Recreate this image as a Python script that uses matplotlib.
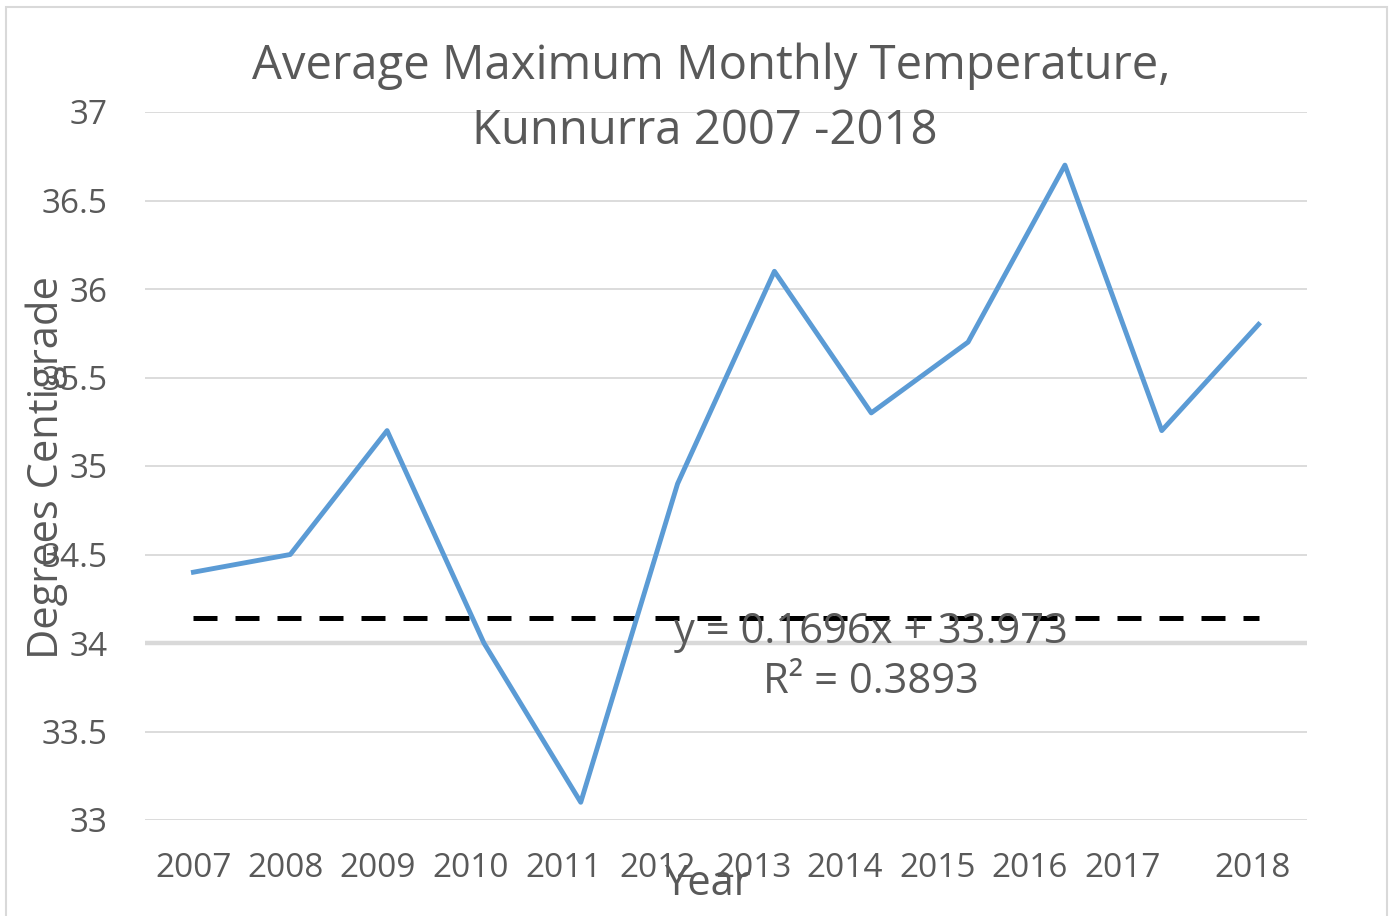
import matplotlib.pyplot as plt
from matplotlib.patches import Rectangle

plt.rcParams['font.family'] = ['Open Sans', 'DejaVu Sans']

years = ['2007', '2008', '2009', '2010', '2011', '2012',
         '2013', '2014', '2015', '2016', '2017', '2018']
temps = [34.4, 34.5, 35.2, 34.0, 33.1, 34.9, 36.1, 35.3, 35.7, 36.7, 35.2, 35.8]
trend_level = 34.14
# label slots in the original are not evenly spread
label_pos = [0, 0.95, 1.9, 2.86, 3.82, 4.79, 5.78, 6.73, 7.69, 8.64, 9.6, 10.94]

grey = '#595959'
fig = plt.figure(figsize=(13.94, 9.16), dpi=100)
ax = fig.add_axes([145/1394, 96/916, 1162/1394, 708/916])

xs = list(range(len(temps)))
for y in [33, 33.5, 34.5, 35, 35.5, 36, 36.5, 37]:
    ax.axhline(y, color='#d9d9d9', lw=1.3, zorder=0)
ax.axhline(34, color='#d9d9d9', lw=3.2, zorder=0)

ax.plot(xs, temps, color='#5b9bd5', lw=3.5, solid_joinstyle='round', zorder=3)
ax.plot([xs[0], xs[-1]], [trend_level, trend_level], color='black', lw=3.6,
        dashes=(4.8, 3.6), zorder=2)

ax.text(7.0, 34.06, 'y = 0.1696x + 33.973', ha='center', va='center',
        fontsize=30, color=grey, zorder=4)
ax.text(7.0, 33.78, 'R² = 0.3893', ha='center', va='center',
        fontsize=30, color=grey, zorder=4)

ax.set_xlim(-0.5, 11.5)
ax.set_ylim(33, 37)
ax.set_yticks([33, 33.5, 34, 34.5, 35, 35.5, 36, 36.5, 37])
ax.set_yticklabels(['33', '33.5', '34', '34.5', '35', '35.5', '36', '36.5', '37'])
ax.set_xticks(label_pos)
ax.set_xticklabels(years)
ax.tick_params(axis='both', length=0, labelsize=24, colors=grey)
ax.tick_params(axis='x', pad=23)
ax.tick_params(axis='y', pad=27)
for s in ax.spines.values():
    s.set_visible(False)

fig.text(711/1394, 1 - 66/916, 'Average Maximum Monthly Temperature,', ha='center',
         va='center', fontsize=34, color=grey)
fig.text(705/1394, 1 - 131/916, 'Kunnurra 2007 -2018', ha='center',
         va='center', fontsize=34, color=grey)
fig.text(47/1394, 1 - 468/916, 'Degrees Centigrade', rotation=90, ha='center',
         va='center', fontsize=30, color=grey)
fig.text(707/1394, 1 - 884/916, 'Year', ha='center', va='center',
         fontsize=30, color=grey)

fig.patches.append(Rectangle((6/1394, -0.05), 1381/1394, 1.05 - 7/916,
                             transform=fig.transFigure, fill=False,
                             edgecolor='#d9d9d9', lw=1.5))

fig.savefig('out.png', dpi=100)
